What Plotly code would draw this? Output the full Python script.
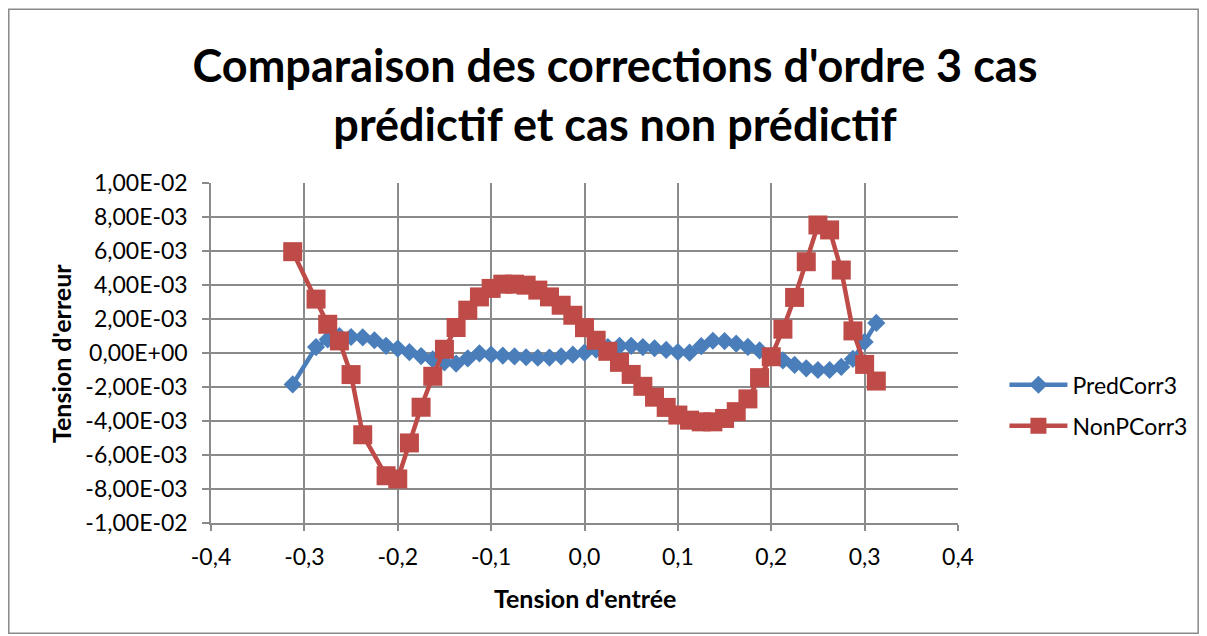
import plotly.graph_objects as go

# Input voltage samples (V) and third-order correction errors (V)
pred_x = [-0.3125, -0.2875, -0.275, -0.2625, -0.25, -0.2375, -0.225, -0.2125, -0.2, -0.1875,
          -0.175, -0.1625, -0.15, -0.1375, -0.125, -0.1125, -0.1, -0.0875, -0.075, -0.0625,
          -0.05, -0.0375, -0.025, -0.0125, 0.0, 0.0125, 0.025, 0.0375, 0.05, 0.0625,
          0.075, 0.0875, 0.1, 0.1125, 0.125, 0.1375, 0.15, 0.1625, 0.175, 0.1875,
          0.2, 0.2125, 0.225, 0.2375, 0.25, 0.2625, 0.275, 0.2875, 0.3, 0.3125]
pred_corr3 = [-1.85e-3, 0.35e-3, 0.80e-3, 1.00e-3, 0.94e-3, 0.92e-3, 0.75e-3, 0.42e-3, 0.26e-3, 0.05e-3,
              -0.18e-3, -0.38e-3, -0.55e-3, -0.62e-3, -0.32e-3, -0.02e-3, -0.10e-3, -0.15e-3, -0.20e-3, -0.25e-3,
              -0.28e-3, -0.27e-3, -0.20e-3, -0.10e-3, 0.02e-3, 0.20e-3, 0.35e-3, 0.42e-3, 0.42e-3, 0.35e-3,
              0.28e-3, 0.18e-3, 0.06e-3, 0.02e-3, 0.40e-3, 0.72e-3, 0.70e-3, 0.55e-3, 0.36e-3, 0.15e-3,
              -0.22e-3, -0.43e-3, -0.70e-3, -0.90e-3, -1.00e-3, -1.00e-3, -0.82e-3, -0.35e-3, 0.65e-3, 1.77e-3]

nonp_x = [-0.3125, -0.2875, -0.275, -0.2625, -0.25, -0.2375, -0.2125, -0.2, -0.1875, -0.175,
          -0.1625, -0.15, -0.1375, -0.125, -0.1125, -0.1, -0.0875, -0.075, -0.0625, -0.05,
          -0.0375, -0.025, -0.0125, 0.0, 0.0125, 0.025, 0.0375, 0.05, 0.0625, 0.075,
          0.0875, 0.1, 0.1125, 0.125, 0.1375, 0.15, 0.1625, 0.175, 0.1875, 0.2,
          0.2125, 0.225, 0.2375, 0.25, 0.2625, 0.275, 0.2875, 0.3, 0.3125]
nonp_corr3 = [5.96e-3, 3.17e-3, 1.69e-3, 0.71e-3, -1.27e-3, -4.81e-3, -7.22e-3, -7.41e-3, -5.29e-3, -3.19e-3,
              -1.37e-3, 0.22e-3, 1.50e-3, 2.52e-3, 3.30e-3, 3.80e-3, 4.05e-3, 4.05e-3, 3.99e-3, 3.70e-3,
              3.30e-3, 2.81e-3, 2.22e-3, 1.49e-3, 0.75e-3, 0.10e-3, -0.55e-3, -1.26e-3, -1.96e-3, -2.60e-3,
              -3.20e-3, -3.65e-3, -3.95e-3, -4.05e-3, -4.05e-3, -3.85e-3, -3.45e-3, -2.70e-3, -1.45e-3, -0.22e-3,
              1.40e-3, 3.27e-3, 5.37e-3, 7.53e-3, 7.24e-3, 4.88e-3, 1.30e-3, -0.67e-3, -1.65e-3]

x_tick_vals = [-0.4, -0.3, -0.2, -0.1, 0.0, 0.1, 0.2, 0.3, 0.4]
x_tick_text = ["-0,4", "-0,3", "-0,2", "-0,1", "0,0", "0,1", "0,2", "0,3", "0,4"]
y_tick_vals = [1e-2, 8e-3, 6e-3, 4e-3, 2e-3, 0.0, -2e-3, -4e-3, -6e-3, -8e-3, -1e-2]
y_tick_text = ["1,00E-02", "8,00E-03", "6,00E-03", "4,00E-03", "2,00E-03", "0,00E+00",
               "-2,00E-03", "-4,00E-03", "-6,00E-03", "-8,00E-03", "-1,00E-02"]

FONT = "Lato"
GRID = "#8a8a8a"
BLUE = "#4a7ebb"
RED = "#be4b48"

fig = go.Figure()
fig.add_trace(go.Scatter(
    x=pred_x, y=pred_corr3, name="PredCorr3", mode="lines+markers", legendgroup="pred",
    line=dict(color=BLUE, width=4.5),
    marker=dict(symbol="diamond", size=14, color=BLUE),
))
fig.add_trace(go.Scatter(
    x=nonp_x, y=nonp_corr3, name="NonPCorr3", mode="lines+markers", legendgroup="nonp",
    line=dict(color=RED, width=4.5),
    marker=dict(symbol="square", size=19, color=RED),
))

L, R, T, B = 210.5, 248.5, 182.7, 113.3
W, H = 1207, 636
pw, ph = W - L - R, H - T - B

def px_x(p):
    return (p - L) / pw

def px_y(p):
    return (H - B - p) / ph

fig.update_layout(
    width=W, height=H,
    margin=dict(l=L, r=R, t=T, b=B, pad=0),
    paper_bgcolor="white", plot_bgcolor="white",
    font=dict(family=FONT, size=23, color="black"),
    title=dict(
        text="<b>Comparaison des corrections d'ordre 3 cas<br>prédictif et cas non prédictif</b>",
        x=615 / W, xanchor="center", xref="container",
        y=1 - 82 / H, yanchor="middle", yref="container",
        font=dict(family=FONT, size=45, color="black"),
    ),
    xaxis=dict(
        range=[-0.4, 0.4], tickvals=x_tick_vals, ticktext=x_tick_text,
        showgrid=True, gridcolor=GRID, gridwidth=1.5,
        showline=True, linecolor=GRID, linewidth=1.5,
        ticks="outside", ticklen=6, tickcolor=GRID, tickwidth=1.5,
        ticklabelstandoff=7, zeroline=False,
        tickfont=dict(family=FONT, size=23),
    ),
    yaxis=dict(
        range=[-1e-2, 1e-2], tickvals=y_tick_vals, ticktext=y_tick_text,
        showgrid=True, gridcolor=GRID, gridwidth=1.5,
        showline=True, linecolor=GRID, linewidth=1.5,
        ticks="outside", ticklen=7, tickcolor=GRID, tickwidth=1.5,
        ticklabelstandoff=10, zeroline=False,
        tickfont=dict(family=FONT, size=23),
    ),
    legend=dict(
        x=px_x(1005), y=px_y(405), xanchor="left", yanchor="middle",
        font=dict(family=FONT, size=23), bgcolor="rgba(0,0,0,0)",
        itemsizing="trace", itemwidth=58, tracegroupgap=8,
    ),
    showlegend=True,
)

# Axis titles
fig.add_annotation(text="<b>Tension d'entrée</b>", xref="paper", yref="paper",
                   x=px_x(585), y=px_y(598), xanchor="center", yanchor="middle",
                   showarrow=False, font=dict(family=FONT, size=25))
fig.add_annotation(text="<b>Tension d'erreur</b>", xref="paper", yref="paper",
                   x=px_x(61), y=px_y(353), xanchor="center", yanchor="middle",
                   textangle=-90, showarrow=False, font=dict(family=FONT, size=25))

# Chart frame
fig.add_shape(type="rect", xref="paper", yref="paper",
              x0=px_x(8), x1=px_x(1199), y0=px_y(633), y1=px_y(9),
              line=dict(color=GRID, width=1.5), fillcolor="rgba(0,0,0,0)", layer="below")

fig.write_html("out.html")
